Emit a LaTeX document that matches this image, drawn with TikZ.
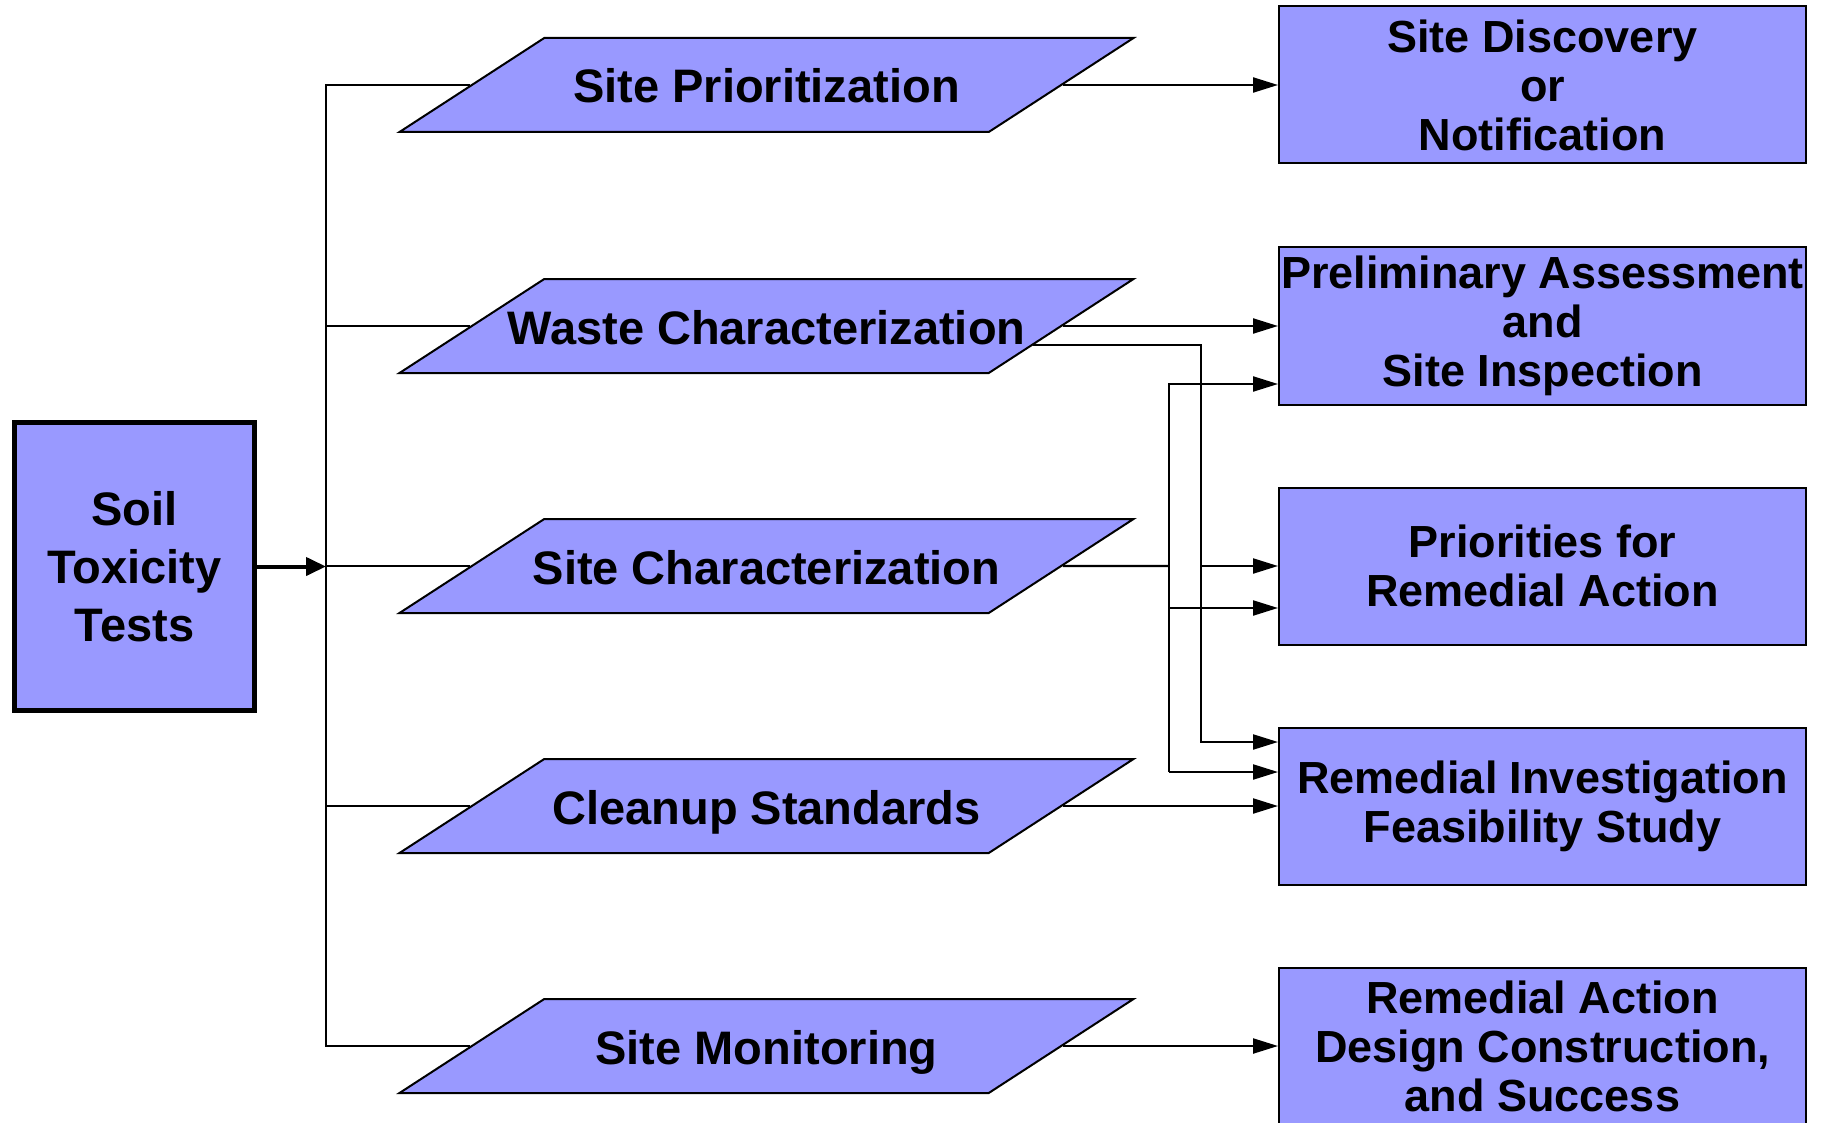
\documentclass[tikz,border=0pt]{standalone}
\usepackage{fontspec}
\setmainfont{Liberation Sans}
\usetikzlibrary{positioning, arrows.meta, shapes.geometric, calc}

\definecolor{stageblue}{RGB}{153,153,255}
\newcommand{\stagelabel}[1]{\makebox[180pt]{#1}}

\tikzset{
    stage/.style={trapezium, trapezium left angle=33, trapezium right angle=147,
        trapezium stretches body, draw, line width=1pt, fill=stageblue,
        minimum width=367pt, inner xsep=0pt, inner ysep=12.5pt,
        text height=20pt, text depth=2pt,
        font=\fontsize{23.5}{28}\selectfont\bfseries},
    outcome/.style={rectangle, draw, line width=1pt, fill=stageblue,
        minimum width=263.5pt, minimum height=78.5pt, inner sep=0pt, align=center,
        font=\fontsize{22.5}{24.5}\selectfont\bfseries},
    wire/.style={line width=1.1pt},
    link/.style={wire, -{Triangle[length=12.5pt, width=7.5pt]}}
}

\begin{document}
\begin{tikzpicture}[x=0.5pt, y=-0.5pt]
        \useasboundingbox (0,0) rectangle (1824,1123);

        \node[rectangle, draw, line width=2.5pt, fill=stageblue, minimum width=120pt,
            minimum height=144pt, align=center,
            font=\fontsize{23.5}{29}\selectfont\bfseries] (soil) at (134.5,566.5) {Soil\\Toxicity\\Tests};

        \node[stage] (p1) at (766.5,85) {\stagelabel{Site Prioritization}};
        \node[stage] (p2) at (766.5,326) {\stagelabel{Waste Characterization}};
        \node[stage] (p3) at (766.5,566) {\stagelabel{Site Characterization}};
        \node[stage] (p4) at (766.5,806) {\stagelabel{Cleanup Standards}};
        \node[stage] (p5) at (766.5,1046) {\stagelabel{Site Monitoring}};

        \node[outcome] (b1) at (1542.5,85) {Site Discovery\\or\\Notification};
        \node[outcome] (b2) at (1542.5,326) {Preliminary Assessment\\and\\Site Inspection};
        \node[outcome] (b3) at (1542.5,566) {Priorities for\\Remedial Action};
        \node[outcome] (b4) at (1542.5,806) {Remedial Investigation\\Feasibility Study};
        \node[outcome] (b5) at (1542.5,1046) {Remedial Action\\Design Construction,\\and Success};

        \coordinate (bus) at (326,566);
        \coordinate (ra) at (1201,566);
        \coordinate (rb) at (1169,566);
        \coordinate (out2) at ($(p2.east)!0.4!(p2.bottom right corner)$);
        \coordinate (in2) at ($(b2.west)+(0,58)$);
        \coordinate (in3) at ($(b3.west)+(0,42)$);
        \coordinate (in4a) at ($(b4.west)+(0,-64)$);
        \coordinate (in4b) at ($(b4.west)+(0,-34)$);

        \draw[line width=2pt, -{Triangle[length=10pt, width=9pt]}] (soil.east) -- (soil.east -| bus);
        \draw[wire] (p1.west) -- (p1.west -| bus) -- (p5.west -| bus) -- (p5.west);
        \foreach \p in {p2, p3, p4}
            \draw[wire] (\p.west -| bus) -- (\p.west);

        \draw[link] (p1.east) -- (p1.east -| b1.west);
        \draw[link] (p2.east) -- (p2.east -| b2.west);
        \draw[link] (p4.east) -- (p4.east -| b4.west);
        \draw[link] (p5.east) -- (p5.east -| b5.west);

        \draw[link] (out2) -| (ra |- in4a) -- (in4a);
        \draw[link] (ra |- b3.west) -- (b3.west);

        \draw[wire] (p3.east) -- (rb);
        \draw[link] (rb |- in4b) -- (rb |- in2) -- (in2);
        \draw[link] (rb |- in3) -- (in3);
        \draw[link] (rb |- in4b) -- (in4b);
    \end{tikzpicture}
\end{document}
